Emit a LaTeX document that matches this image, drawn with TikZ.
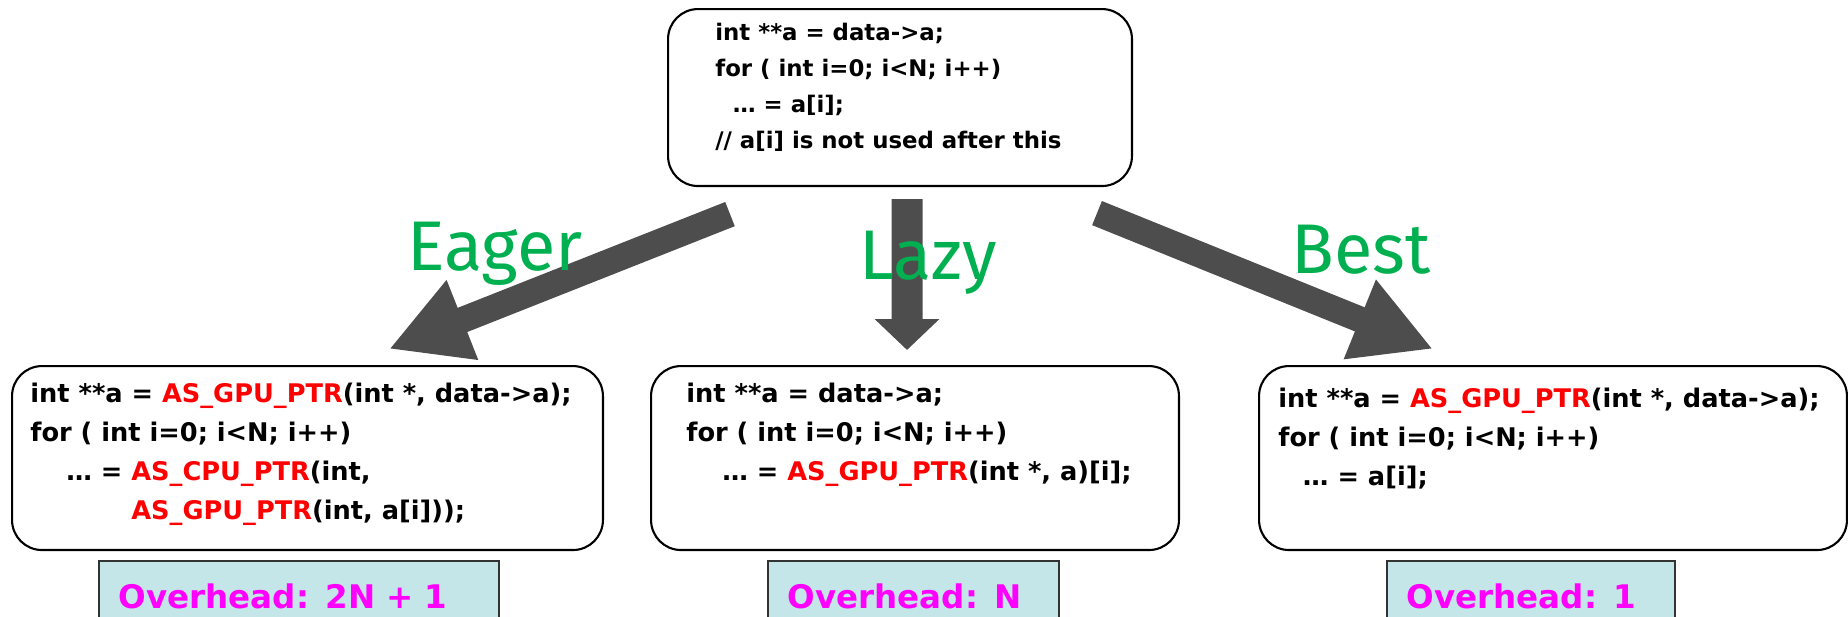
\documentclass[tikz,border=0pt]{standalone}
\usepackage{fontspec}
\usetikzlibrary{arrows.meta,calc,positioning}
\newfontfamily\codefont{DejaVu Sans}
\newfontfamily\labelfont{Fira Sans}
\definecolor{arrowgray}{RGB}{77,77,77}
\definecolor{choicegreen}{RGB}{0,176,80}
\definecolor{codered}{RGB}{255,0,0}
\definecolor{costmagenta}{RGB}{255,0,255}
\definecolor{costfill}{RGB}{197,230,232}
\newcommand{\asptr}[1]{\textcolor{codered}{AS\_#1\_PTR}}

\begin{document}
\begin{tikzpicture}[x=0.02cm,y=0.02cm,
  codebox/.style={draw,line width=1.2pt,rounded corners=0.6cm,anchor=north west,minimum height=3.68cm},
  code/.style={anchor=north west,inner sep=0pt,align=left,font=\codefont\bfseries\fontsize{14.6pt}{22.2pt}\selectfont},
  cost/.style={draw=black!80,line width=1pt,fill=costfill,anchor=north west,minimum height=1.4cm,inner xsep=0.4cm,align=left,text=costmagenta,font=\codefont\bfseries\fontsize{18.5pt}{22pt}\selectfont},
  bigarrow/.style={draw=arrowgray,line width=0.52cm,-{Triangle[length=1.58cm,width=1.6cm]}},
  choice/.style={anchor=base,text=choicegreen,font=\labelfont\fontsize{40pt}{44pt}\selectfont}]
\useasboundingbox (0,0) rectangle (1848,-616);
\clip (0,0) rectangle (1848,-616);

% source loop
\node[codebox,minimum width=9.28cm,minimum height=3.54cm] (top) at (667,-8) {};
\node[code,font=\codefont\bfseries\fontsize{13pt}{20.5pt}\selectfont] (topcode) at (715,-23) {int **a = data->a;\\
for ( int i=0; i<N; i++)\\
\hspace*{10pt}… = a[i];\\
// a[i] is not used after this};

% three translations
\node[codebox,minimum width=11.82cm] (eager) at (11,-365) {};
\node[codebox,minimum width=10.56cm] (lazy) at (650,-365) {};
\node[codebox,minimum width=11.76cm] (best) at (1258,-365) {};

\node[code] (eagercode) at (30,-383) {int **a = \asptr{GPU}(int *, data->a);\\
for ( int i=0; i<N; i++)\\
\hspace*{20.5pt}… = \asptr{CPU}(int,\\
\hspace*{20.5pt}\phantom{… = }\asptr{GPU}(int, a[i]));};
\node[code] (lazycode) at (686,-383) {int **a = data->a;\\
for ( int i=0; i<N; i++)\\
\hspace*{20.5pt}… = \asptr{GPU}(int *, a)[i];};
\node[code] (bestcode) at (1278,-388) {int **a = \asptr{GPU}(int *, data->a);\\
for ( int i=0; i<N; i++)\\
\hspace*{14pt}… = a[i];};

% overheads
\node[cost,text width=7.2cm] (eagercost) at (98,-560) {Overhead: 2N + 1};
\node[cost,text width=5.02cm] (lazycost) at (767,-560) {Overhead: N};
\node[cost,text width=4.96cm] (bestcost) at (1386,-560) {Overhead: 1};

% arrows
\draw[bigarrow] ($(top.south west)+(63,-27)$) -- ($(eager.north west)+(378,16)$);
\draw[bigarrow,line width=0.62cm,-{Triangle[length=0.62cm,width=1.26cm]}] ($(top.south)+(7,-12)$) -- ($(lazy.north)+(-8,15)$);
\draw[bigarrow] ($(top.south east)+(-36,-26)$) -- ($(best.north west)+(175,16)$);

\node[choice] (eagerlabel) at (495,-270) {Eager};
\node[choice] (lazylabel) at (928,-279) {Lazy};
\node[choice] (bestlabel) at (1361,-273) {Best};
\end{tikzpicture}
\end{document}
